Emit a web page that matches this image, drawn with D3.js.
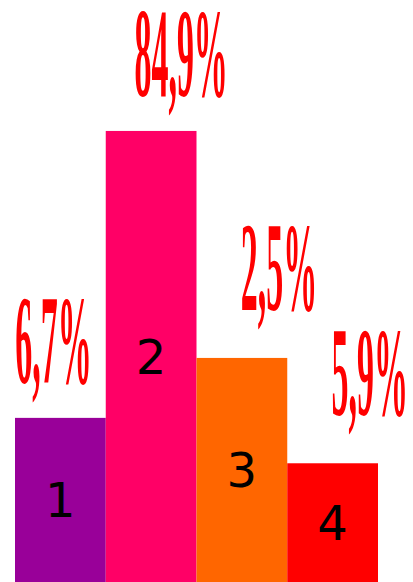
<!DOCTYPE html>
<html>
<head>
<meta charset="utf-8">
<script src="https://cdn.jsdelivr.net/npm/d3@7"></script>
<style>
  html, body { margin: 0; padding: 0; background: #fff; }
  svg { display: block; }
</style>
</head>
<body>
<script>
// Categories and the figures shown for each column
const categories = ["1", "2", "3", "4"];
const barHeights = [28.2, 77.5, 38.5, 20.4];
const shareLabels = ["6,7%", "84,9%", "2,5%", "5,9%"];
const barColors = ["#990099", "#FF0066", "#FF6600", "#FF0000"];

const W = 413, H = 582;

// Per-column nudges for the percentage captions
const captionDx = [-7, 30, 37, 37];
const captionGap = [35, 35, 48, 48];

const svg = d3.select("body").append("svg")
  .attr("width", W).attr("height", H);

const x = d3.scaleBand().domain(categories).range([15, 378]).padding(0);
const y = d3.scaleLinear().domain([0, 100]).range([H, 0]);

const cols = svg.selectAll("g.col")
  .data(categories.map((c, i) => ({ c, i, v: barHeights[i] })))
  .join("g").attr("class", "col");

cols.append("rect")
  .attr("x", d => x(d.c))
  .attr("y", d => y(d.v))
  .attr("width", x.bandwidth())
  .attr("height", d => y(0) - y(d.v))
  .attr("fill", d => barColors[d.i]);

// Category numbers centred inside each column
cols.append("text")
  .attr("x", d => x(d.c) + x.bandwidth() / 2)
  .attr("y", d => (y(d.v) + y(0)) / 2)
  .attr("dy", "0.36em")
  .attr("text-anchor", "middle")
  .attr("font-family", "'DejaVu Sans', Verdana, sans-serif")
  .attr("font-size", 48)
  .attr("fill", "#000")
  .text(d => d.c);

// Tall, narrow percentage captions above the columns
cols.append("g")
  .attr("transform", d =>
    `translate(${x(d.c) + x.bandwidth() / 2 + captionDx[d.i]},${y(d.v) - captionGap[d.i]}) scale(1,3.75)`)
  .append("text")
  .attr("text-anchor", "middle")
  .attr("font-family", "'Liberation Serif', 'Times New Roman', serif")
  .attr("font-weight", "bold")
  .attr("font-size", 34)
  .attr("fill", "#FF0000")
  .text(d => shareLabels[d.i]);
</script>
</body>
</html>
